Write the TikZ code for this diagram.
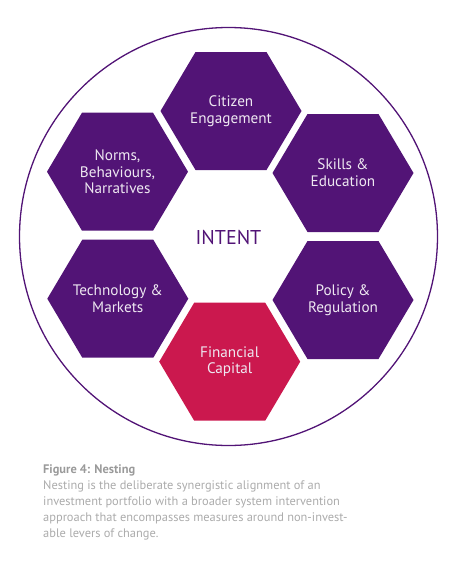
\documentclass[tikz,border=0pt]{standalone}
\usepackage{fontspec}
\setmainfont{PT Sans}
\definecolor{hexpurple}{HTML}{521476}
\definecolor{hexred}{HTML}{CB184E}
\definecolor{captiongray}{HTML}{ABABAB}
\definecolor{captionhead}{HTML}{9A9A9A}
\tikzset{
  hextext/.style={text=white!90!hexpurple, align=center, font=\fontsize{15.2}{16.7}\selectfont, inner sep=0pt},
  ring/.style={draw=hexpurple, line width=1.3pt},
}
\newcommand\hexcell[5]{%
  \fill[#4] ([shift={(-70.5,0)}]#2,#3) -- ([shift={(-35.5,-59)}]#2,#3) -- ([shift={(35.5,-59)}]#2,#3) -- ([shift={(70.5,0)}]#2,#3) -- ([shift={(35.5,59)}]#2,#3) -- ([shift={(-35.5,59)}]#2,#3) -- cycle;
  \node[hextext] (#1) at (#2,#3) {#5};
}
\begin{document}
\begin{tikzpicture}[x=1pt,y=-1pt]
\useasboundingbox (0,0) rectangle (456,570);
\node[ring, circle, minimum size=418pt, inner sep=0pt] (outer) at (228.5,236.5) {};
\hexcell{citizen}{231}{111}{hexpurple}{Citizen\\Engagement}
\hexcell{norms}{117.5}{171.7}{hexpurple}{Norms,\\Behaviours,\\Narratives}
\hexcell{skills}{343}{173}{hexpurple}{Skills \&\\Education}
\hexcell{tech}{117.8}{298.7}{hexpurple}{Technology \&\\Markets}
\hexcell{policy}{343}{300}{hexpurple}{Policy \&\\Regulation}
\hexcell{finance}{229.7}{361.7}{hexred}{Financial\\Capital}
\node[text=hexpurple, font=\fontsize{20}{24}\selectfont, inner sep=0pt] (intent) at (228.5,237.5) {INTENT};
\node[anchor=north west, align=left, inner sep=0pt, text=captiongray, font=\fontsize{12.4}{16.1}\selectfont] (caption) at (43,464.5)
 {{\bfseries\color{captionhead}Figure 4: Nesting}\\
 Nesting is the deliberate synergistic alignment of an\\
 investment portfolio with a broader system intervention\\
 approach that encompasses measures around non-invest-\\
 able levers of change.};
\end{tikzpicture}
\end{document}
